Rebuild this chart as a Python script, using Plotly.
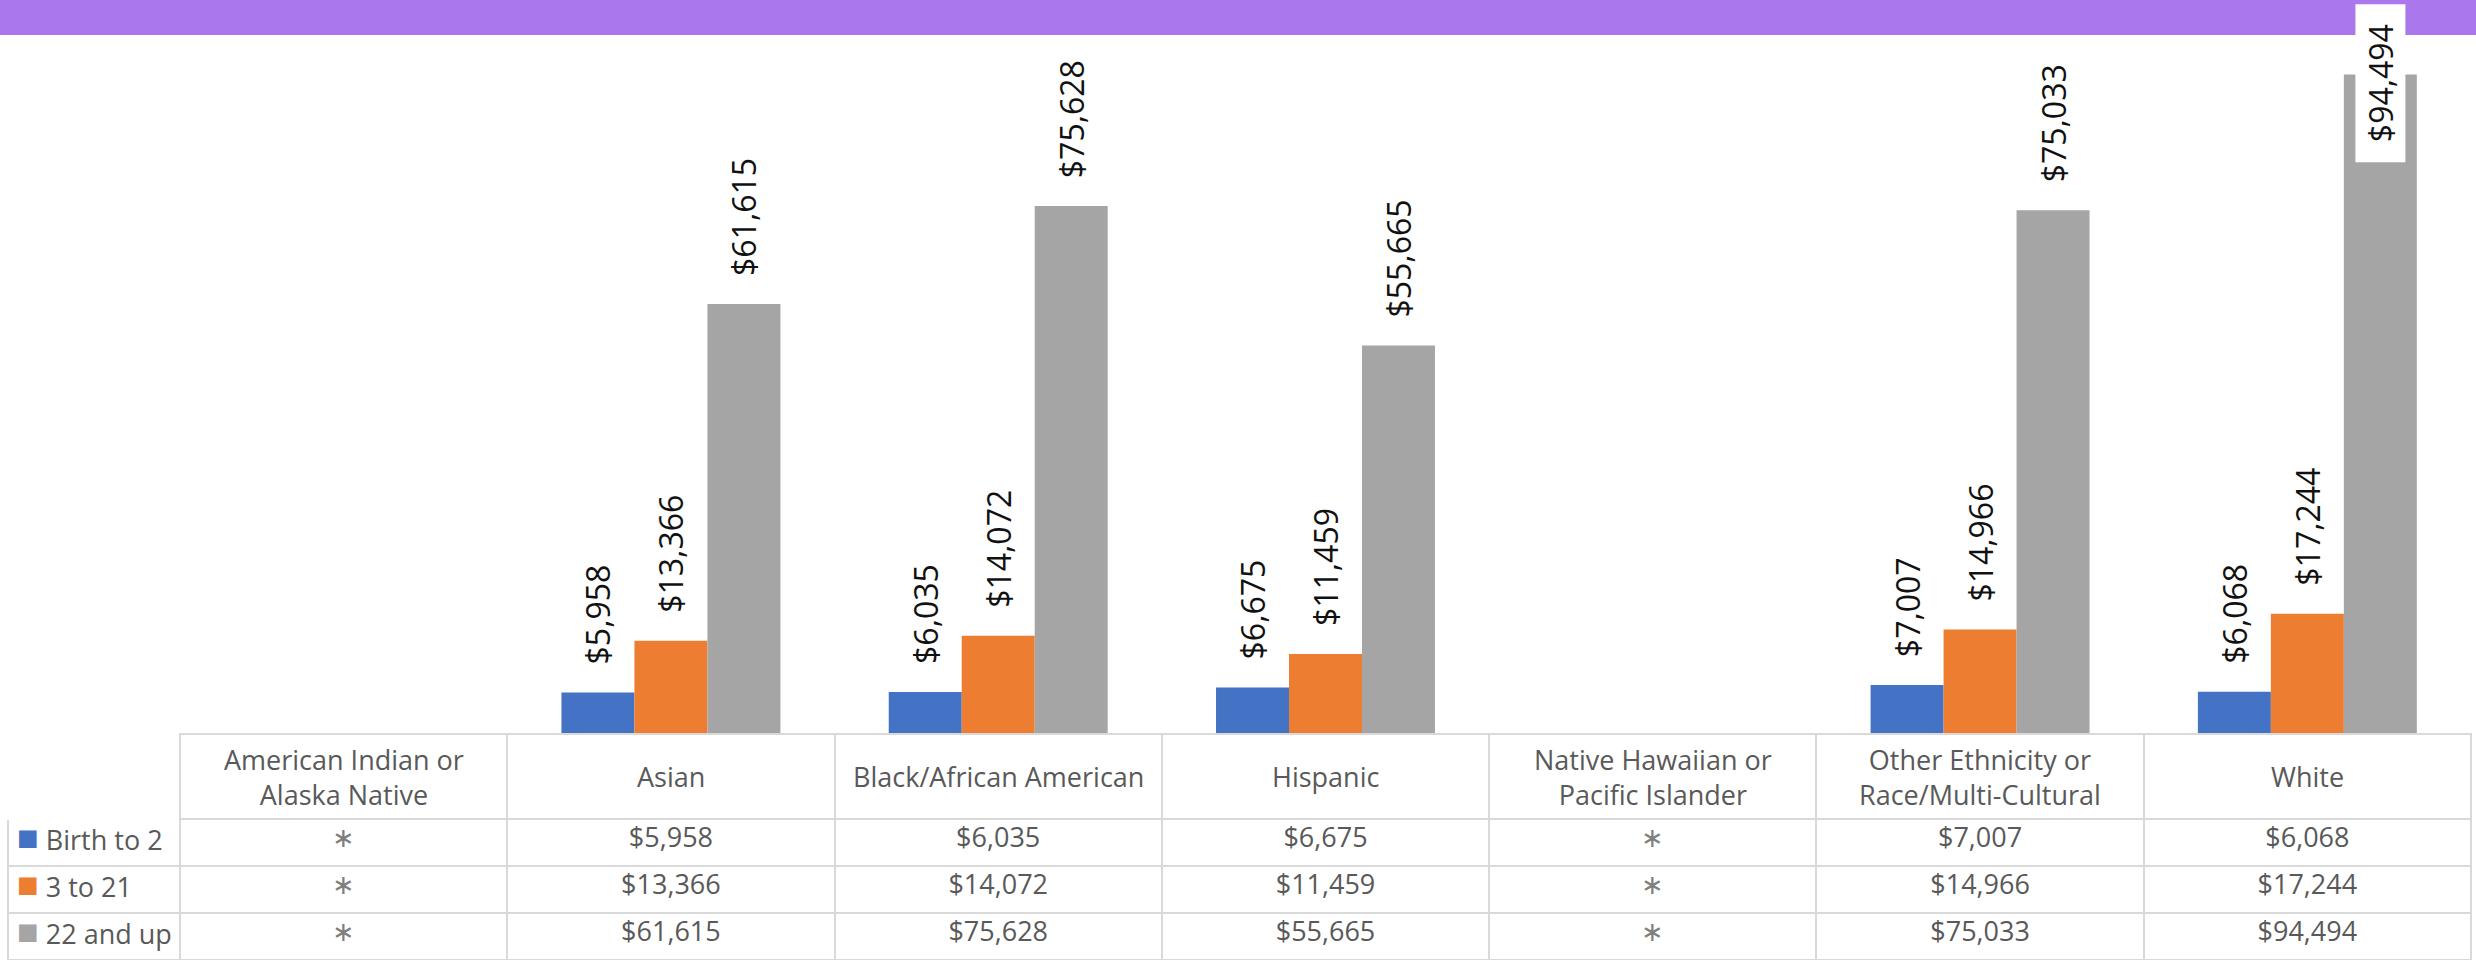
import plotly.graph_objects as go

# data (None = suppressed, shown as *)
categories = ["American Indian or Alaska Native", "Asian", "Black/African American", "Hispanic",
              "Native Hawaiian or Pacific Islander", "Other Ethnicity or Race/Multi-Cultural", "White"]
header_text = ["American Indian or<br>Alaska Native", "Asian", "Black/African American", "Hispanic",
               "Native Hawaiian or<br>Pacific Islander", "Other Ethnicity or<br>Race/Multi-Cultural", "White"]
series_names = ["Birth to 2", "3 to 21", "22 and up"]
birth_to_2 = [None, 5958, 6035, 6675, None, 7007, 6068]
age_3_to_21 = [None, 13366, 14072, 11459, None, 14966, 17244]
age_22_up = [None, 61615, 75628, 55665, None, 75033, 94494]
colors = ["#4472C4", "#ED7D31", "#A5A5A5"]

W, H = 2476, 960
plot_l, plot_r = 180, 2471      # px
plot_top, plot_bot = 36, 734    # px
head_h, row_h = 85, 47
bargap = 0.331
bar_px = (plot_r - plot_l) / len(categories) * (1 - bargap) / 3

fnt = "Open Sans"
nb = "\u00a0"

fig = go.Figure()
all_series = [birth_to_2, age_3_to_21, age_22_up]
for name, vals, col in zip(series_names, all_series, colors):
    txt = [("" if v is None else nb * 3 + f"${v:,}") for v in vals]
    fig.add_trace(go.Bar(x=categories, y=vals, name=name, marker_color=col,
                         marker_line_width=0, text=txt, textposition="outside",
                         textangle=-90, constraintext="none", cliponaxis=False,
                         textfont=dict(family=fnt, size=32, color="#111111"),
                         showlegend=False, hoverinfo="skip"))

# tallest label does not fit above its bar -> boxed label like the original
fig.data[2].text = tuple(list(fig.data[2].text[:-1]) + [""])
fig.add_annotation(x=categories[-1], y=age_22_up[-1], xref="x", yref="y", xshift=bar_px,
                   yshift=-9, yanchor="middle", textangle=-90,
                   text=nb * 2 + f"${age_22_up[-1]:,}" + nb * 2,
                   font=dict(family=fnt, size=32, color="#111111"),
                   showarrow=False, bgcolor="white", borderpad=3)

# data table under the bars
def fmt(v):
    return "\u2217" if v is None else f"${v:,}"

cell_vals = [[""] * 3]
cell_cols = [["#595959"] * 3]
for i in range(len(categories)):
    cell_vals.append([fmt(s[i]) for s in all_series])
    cell_cols.append(["#7F7F7F" if s[i] is None else "#595959" for s in all_series])

line_c = "#D9D9D9"
fig.add_trace(go.Table(
    domain=dict(x=[8 / W, plot_r / W], y=[0, (H - plot_bot) / H]),
    columnwidth=[plot_l - 8] + [(plot_r - plot_l) / len(categories)] * len(categories),
    header=dict(values=[""] * (len(categories) + 1), height=head_h, fill_color="white",
                line=dict(color=["white"] + [line_c] * len(categories), width=2)),
    cells=dict(values=cell_vals, height=row_h, fill_color="white",
               align=["left"] + ["center"] * len(categories),
               line=dict(color=line_c, width=2),
               font=dict(family=fnt, size=27, color=cell_cols)),
))

# header labels centred in the header row
for cat, lab in zip(categories, header_text):
    fig.add_annotation(x=cat, xref="x", y=(H - plot_bot - head_h / 2) / H, yref="paper",
                       yanchor="middle", text=lab, showarrow=False,
                       font=dict(family=fnt, size=27, color="#595959"))

# legend keys in the first table column
for i, (name, col) in enumerate(zip(series_names, colors)):
    yc = plot_bot + head_h + row_h * i + row_h / 2
    fig.add_annotation(x=15 / W, xref="paper", xanchor="left", y=(H - yc) / H, yref="paper",
                       yanchor="middle", yshift=6, showarrow=False,
                       text=f"<span style='color:{col};font-size:36px'>\u25a0</span>{nb}{name}",
                       font=dict(family=fnt, size=27, color="#595959"))

# purple banner on top
fig.add_shape(type="rect", xref="paper", yref="paper", x0=0, x1=1, y0=1 - 35 / H, y1=1,
              fillcolor="#AA77EC", line_width=0, layer="above")

fig.update_layout(
    width=W, height=H, margin=dict(l=0, r=0, t=0, b=0),
    barmode="group", bargap=bargap, bargroupgap=0,
    paper_bgcolor="white", plot_bgcolor="white",
    xaxis=dict(domain=[plot_l / W, plot_r / W], showticklabels=False, showgrid=False,
               zeroline=False, showline=False, ticks=""),
    yaxis=dict(domain=[(H - plot_bot) / H, (H - plot_top) / H], range=[0, 100000],
               visible=False),
)

fig.write_html("out.html", config={"displayModeBar": False},
               post_script="document.body.style.margin='0';")
